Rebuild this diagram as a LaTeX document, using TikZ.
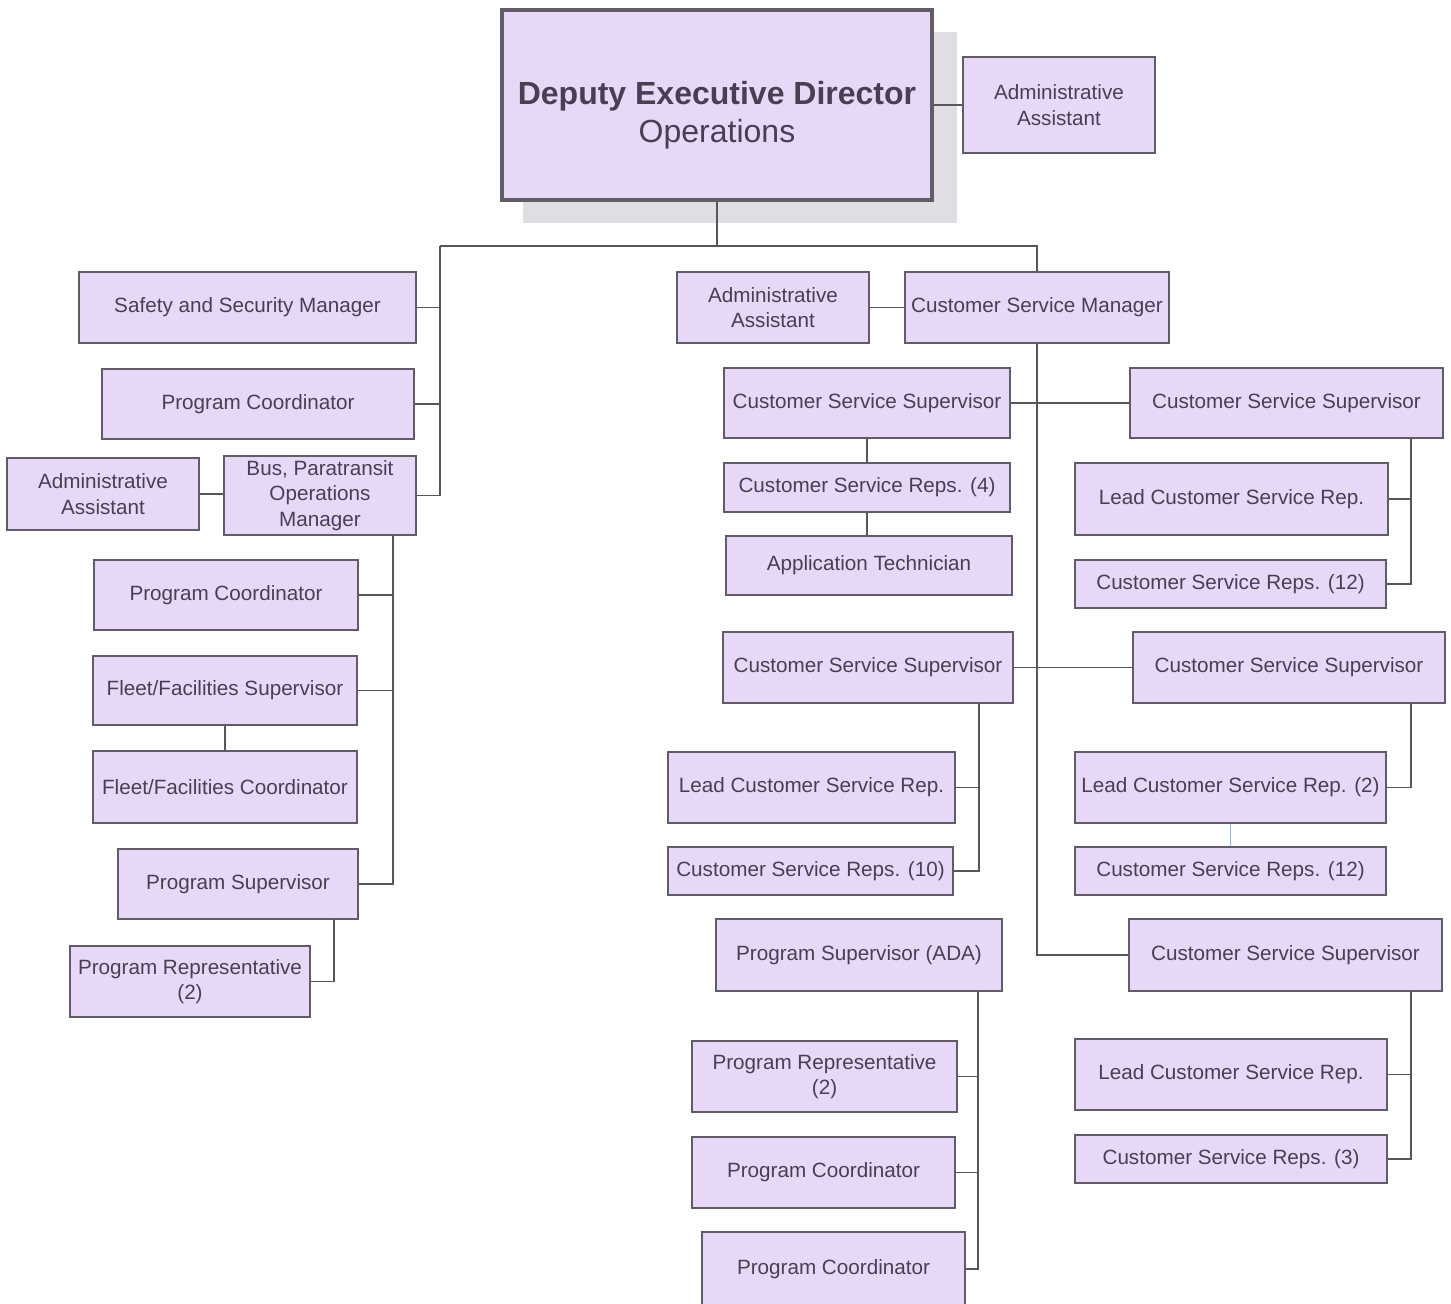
\documentclass[tikz,border=0pt]{standalone}
\usepackage{fontspec}
\setmainfont{Liberation Sans}
\definecolor{boxfill}{RGB}{232,216,248}
\definecolor{boxline}{RGB}{98,92,104}
\definecolor{txt}{RGB}{72,64,82}
\definecolor{conn}{RGB}{88,86,92}
\definecolor{shadowc}{RGB}{224,222,226}
\definecolor{bluelink}{RGB}{150,180,230}
\tikzset{
  orgbox/.style={draw=boxline, line width=1.5pt, fill=boxfill, rectangle, inner sep=0pt,
    align=center, text=txt, font=\fontsize{15.5}{19}\selectfont},
  topbox/.style={orgbox, line width=3pt, font=\fontsize{24}{28.5}\selectfont},
  link/.style={draw=conn, line width=1.4pt},
}
\newcommand\orgbx[7][]{%
  \pgfmathsetmacro\bw{(#5-#3)*0.75}%
  \pgfmathsetmacro\bh{(#6-#4)*0.75}%
  \node[orgbox, minimum width=\bw pt, minimum height=\bh pt, #1] (#2) at ({(#3+#5)/2},{(#4+#6)/2}) {#7};%
}
\begin{document}
\begin{tikzpicture}[x=0.75pt, y=-0.75pt]
\useasboundingbox[fill=white] (0,0) rectangle (1451,1303);
\begin{scope}
\clip (0,0) rectangle (1451,1303);
% shadow of top box
\fill[shadowc] (523,32) rectangle (957,223);
% top
\orgbx[topbox]{ded}{502}{10}{932}{200}{\rule{0pt}{32pt}\textbf{Deputy Executive Director}\\Operations}
\orgbx{aa1}{963}{57}{1155}{153}{Administrative\\Assistant}
% left column
\orgbx{ssm}{79}{272}{416}{343}{Safety and Security Manager}
\orgbx{pcL1}{102}{369}{414}{439}{Program Coordinator}
\orgbx{bpom}{224}{456}{416}{535}{Bus, Paratransit\\Operations\\Manager}
\orgbx{aaL}{7}{458}{199}{530}{Administrative\\Assistant}
\orgbx{pcL2}{94}{560}{358}{630}{Program Coordinator}
\orgbx{ffs}{93}{656}{357}{725}{Fleet/Facilities Supervisor}
\orgbx{ffc}{93}{751}{357}{823}{Fleet/Facilities Coordinator}
\orgbx{psL}{118}{849}{358}{919}{Program Supervisor}
\orgbx{prL}{70}{946}{310}{1017}{Program Representative\\(2)}
% right area
\orgbx{aaR}{677}{272}{869}{343}{Administrative\\Assistant}
\orgbx{csm}{905}{272}{1169}{343}{Customer Service Manager}
\orgbx{css1}{724}{368}{1010}{438}{Customer Service Supervisor}
\orgbx{css1r}{1130}{368}{1443}{438}{Customer Service Supervisor}
\orgbx{csr4}{724}{463}{1010}{512}{Customer Service Reps. (4)}
\orgbx{apt}{726}{536}{1012}{595}{Application Technician}
\orgbx{lcsr1}{1075}{463}{1388}{535}{Lead Customer Service Rep.}
\orgbx{csr12a}{1075}{560}{1386}{608}{Customer Service Reps. (12)}
\orgbx{css2}{723}{632}{1013}{703}{Customer Service Supervisor}
\orgbx{css2r}{1133}{632}{1445}{703}{Customer Service Supervisor}
\orgbx{lcsr2}{668}{752}{955}{823}{Lead Customer Service Rep.}
\orgbx{csr10}{668}{847}{953}{895}{Customer Service Reps. (10)}
\orgbx{lcsr3}{1075}{752}{1386}{823}{Lead Customer Service Rep. (2)}
\orgbx{csr12b}{1075}{847}{1386}{895}{Customer Service Reps. (12)}
\orgbx{psA}{716}{919}{1002}{991}{Program Supervisor (ADA)}
\orgbx{prA}{692}{1041}{957}{1112}{Program Representative\\(2)}
\orgbx{pcA1}{692}{1137}{955}{1208}{Program Coordinator}
\orgbx{pcA2}{702}{1232}{965}{1306}{Program Coordinator}
\orgbx{css5}{1129}{919}{1442}{991}{Customer Service Supervisor}
\orgbx{lcsr5}{1075}{1039}{1387}{1110}{Lead Customer Service Rep.}
\orgbx{csr3}{1075}{1135}{1387}{1183}{Customer Service Reps. (3)}
% junction coordinates
\coordinate (tl) at (440,246);
\coordinate (tr) at (1037,246);
\coordinate (lb) at (393,535);
\coordinate (pb) at (334,919);
\coordinate (rb1) at (1411,438);
\coordinate (mb2) at (979,703);
\coordinate (rb2) at (1411,703);
\coordinate (mb3) at (978,991);
\coordinate (rb3) at (1411,991);
% connectors: top
\draw[link] (ded.east) -- (aa1.west);
\draw[link] (ded.south) -- (ded.south |- tl);
\draw[link] (tl) -- (tr) -- (csm.north);
% left
\draw[link] (tl) |- (bpom.east);
\draw[link] (ssm.east) -- (ssm.east -| tl);
\draw[link] (pcL1.east) -- (pcL1.east -| tl);
\draw[link] (aaL.east) -- (aaL.east -| bpom.west);
\draw[link] (lb) |- (psL.east);
\draw[link] (pcL2.east) -- (pcL2.east -| lb);
\draw[link] (ffs.east) -- (ffs.east -| lb);
\draw[link] (ffs.south) -- (ffc.north);
\draw[link] (pb) |- (prL.east);
% right
\draw[link] (aaR.east) -- (csm.west);
\draw[link] (csm.south) |- (css5.west);
\draw[link] (css1.east) -- (css1r.west);
\draw[link] (css1.south) -- (csr4.north);
\draw[link] (csr4.south) -- (csr4.south |- apt.north);
\draw[link] (rb1) |- (csr12a.east);
\draw[link] (lcsr1.east) -- (lcsr1.east -| rb1);
\draw[link] (css2.east) -- (css2r.west);
\draw[link] (mb2) |- (csr10.east);
\draw[link] (lcsr2.east) -- (lcsr2.east -| mb2);
\draw[link] (rb2) |- (lcsr3.east);
\draw[draw=bluelink, line width=1.4pt] (lcsr3.south) -- (csr12b.north);
\draw[link] (mb3) |- (pcA2.east);
\draw[link] (prA.east) -- (prA.east -| mb3);
\draw[link] (pcA1.east) -- (pcA1.east -| mb3);
\draw[link] (rb3) |- (csr3.east);
\draw[link] (lcsr5.east) -- (lcsr5.east -| rb3);
\end{scope}
\end{tikzpicture}
\end{document}
